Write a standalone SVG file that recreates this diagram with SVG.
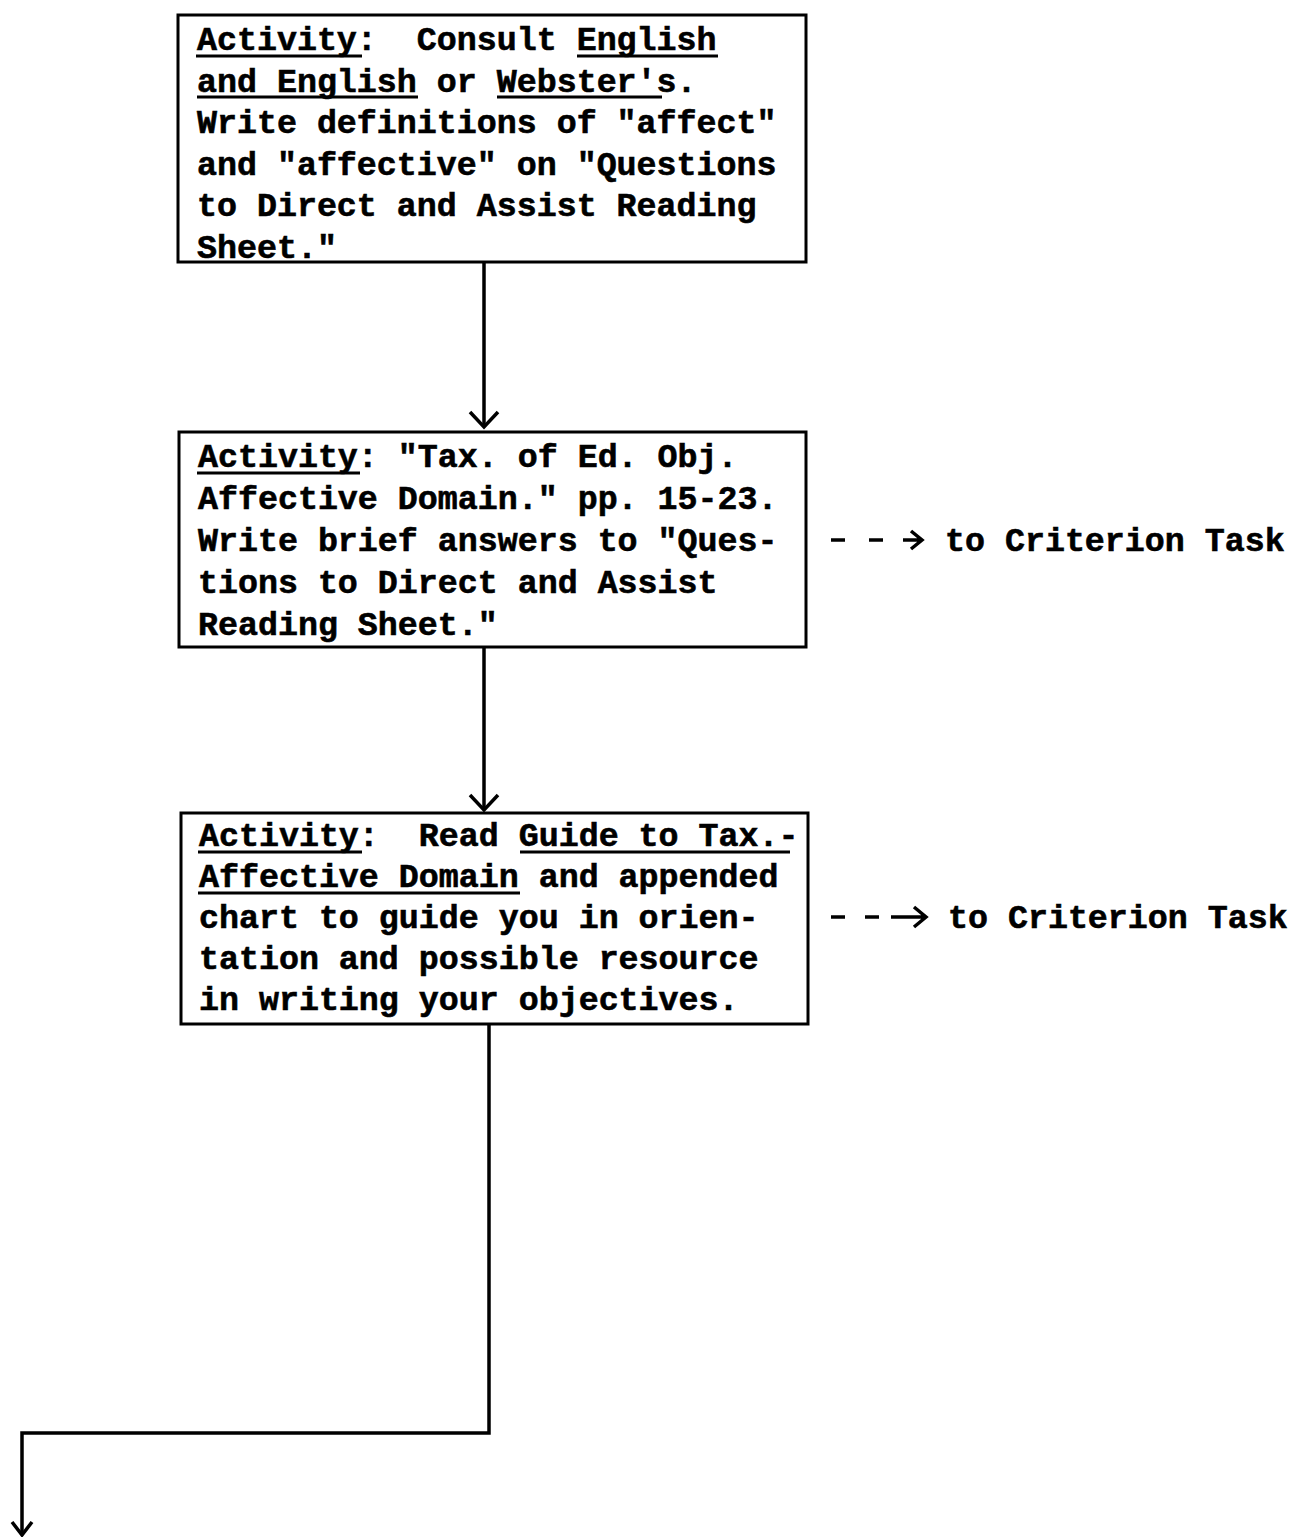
<svg xmlns="http://www.w3.org/2000/svg" width="1296" height="1538" viewBox="0 0 1296 1538">
<style>
.box{fill:#fff;stroke:#000;stroke-width:3}
.t{font-family:"Liberation Mono","DejaVu Sans Mono",monospace;font-weight:bold;font-size:33.3px;fill:#000;stroke:#000;stroke-width:0.6}
.ul{stroke:#000;stroke-width:3;fill:none}
.c{stroke:#000;stroke-width:3.5;fill:none}
</style>
<defs>
<marker id="ah" viewBox="-3 -17 21 34" refX="15" refY="0" markerWidth="21" markerHeight="34" markerUnits="userSpaceOnUse" orient="auto">
<path d="M0 -14 L15 0 L0 14" fill="none" stroke="#000" stroke-width="3.5"/>
</marker>
<marker id="ah2" viewBox="-3 -13 18 26" refX="13" refY="0" markerWidth="18" markerHeight="26" markerUnits="userSpaceOnUse" orient="auto">
<path d="M0 -10 L13 0 L0 10" fill="none" stroke="#000" stroke-width="3.5"/>
</marker>
</defs>
<rect width="1296" height="1538" fill="#fff"/>
<g id="connectors">
<path class="c" d="M484 262 V427" marker-end="url(#ah)"/>
<path class="c" d="M484 647 V810" marker-end="url(#ah)"/>
<path class="c" d="M489 1024 V1433 H22 V1535" marker-end="url(#ah2)"/>
<path class="c" d="M831 540 H845 M869 540 H883 M903 540 H921 M911 531 L922 540 L911 549"/>
<path class="c" d="M831 917 H845 M865 917 H879 M891 917 H925 M914 907 L926 917 L914 927"/>
</g>
<g id="node1">
<rect class="box" x="178" y="15" width="628" height="247"/>
<text class="t" xml:space="preserve"><tspan x="197" y="50">Activity:  Consult English</tspan><tspan x="197" y="92">and English or Webster's.</tspan><tspan x="197" y="133">Write definitions of "affect"</tspan><tspan x="197" y="175">and "affective" on "Questions</tspan><tspan x="197" y="216">to Direct and Assist Reading</tspan><tspan x="197" y="258">Sheet."</tspan></text>
<path class="ul" d="M196 56 H362 M577 56 H718 M197 97 H418 M497 97 H662"/>
</g>
<g id="node2">
<rect class="box" x="179" y="432" width="627" height="215"/>
<text class="t" xml:space="preserve"><tspan x="198" y="467">Activity: "Tax. of Ed. Obj.</tspan><tspan x="198" y="509">Affective Domain." pp. 15-23.</tspan><tspan x="198" y="551">Write brief answers to "Ques-</tspan><tspan x="198" y="593">tions to Direct and Assist</tspan><tspan x="198" y="635">Reading Sheet."</tspan></text>
<path class="ul" d="M197 473 H360"/>
</g>
<g id="node3">
<rect class="box" x="181" y="813" width="627" height="211"/>
<text class="t" xml:space="preserve"><tspan x="199" y="846">Activity:  Read Guide to Tax.-</tspan><tspan x="199" y="887">Affective Domain and appended</tspan><tspan x="199" y="928">chart to guide you in orien-</tspan><tspan x="199" y="969">tation and possible resource</tspan><tspan x="199" y="1010">in writing your objectives.</tspan></text>
<path class="ul" d="M198 852 H362 M520 852 H790 M198 893 H520"/>
</g>
<g id="label1">
<text class="t" x="945" y="551">to Criterion Task</text>
</g>
<g id="label2">
<text class="t" x="948" y="928">to Criterion Task</text>
</g>
</svg>
